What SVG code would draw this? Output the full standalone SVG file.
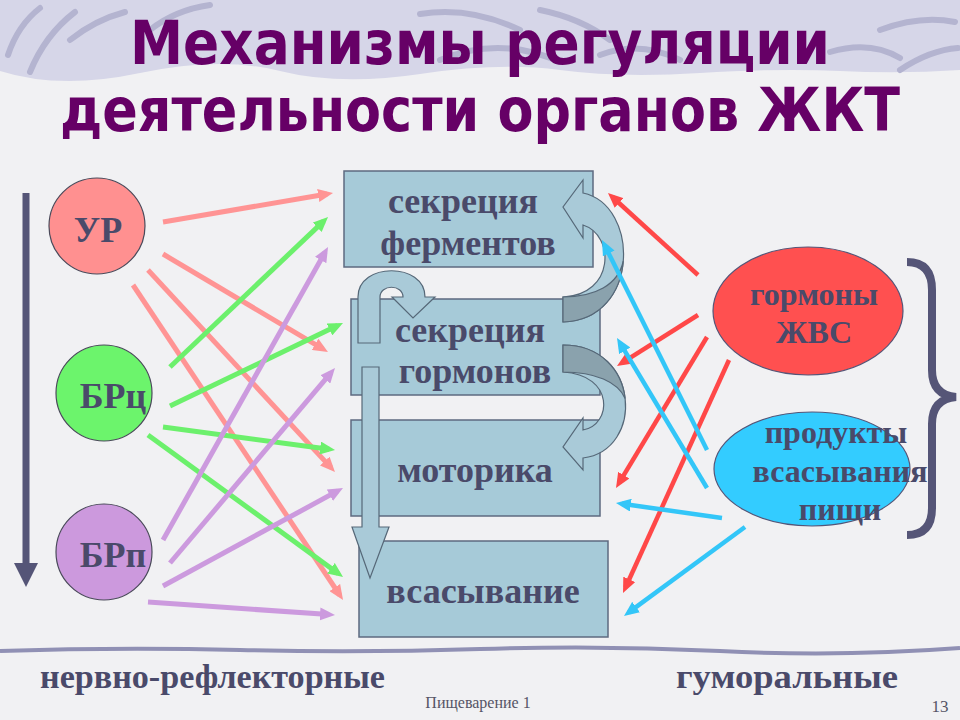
<svg xmlns="http://www.w3.org/2000/svg" width="960" height="720" viewBox="0 0 960 720">
<defs>
<style>
.title{font-family:"DejaVu Sans Condensed","DejaVu Sans",sans-serif;font-weight:bold;font-size:60px;fill:#660066}
.lbl{font-family:"Liberation Serif","Times New Roman",serif;font-weight:bold;fill:#4a4a6a;text-anchor:middle}
.bot{font-family:"Liberation Serif","Times New Roman",serif;font-weight:bold;fill:#4a4a6a;font-size:34px}
.box{fill:#a6cad8;stroke:#5d6a80;stroke-width:1.5}
.blk{fill:#a9cad8;stroke:#566878;stroke-width:1.2}
.blkd{fill:#8aa2ad;stroke:#566878;stroke-width:1.2}
.swirl{fill:none;stroke:#b4b4d0;stroke-width:6;stroke-linecap:round}
.cn{fill:none;stroke-width:5}
.pk{stroke:#ff9494;marker-end:url(#mpk)}
.gr{stroke:#6cf06c;marker-end:url(#mgr)}
.pu{stroke:#cc9ade;marker-end:url(#mpu)}
.rd{stroke:#ff4848;stroke-width:4.5;marker-end:url(#mrd)}
.bl{stroke:#33c6f8;stroke-width:4.5;marker-end:url(#mbl)}
</style>
<marker id="mpk" markerUnits="userSpaceOnUse" markerWidth="15" markerHeight="13" refX="9" refY="6.5" orient="auto"><path d="M0,0 L15,6.5 L0,13 Z" fill="#ff9494"/></marker>
<marker id="mgr" markerUnits="userSpaceOnUse" markerWidth="15" markerHeight="13" refX="9" refY="6.5" orient="auto"><path d="M0,0 L15,6.5 L0,13 Z" fill="#6cf06c"/></marker>
<marker id="mpu" markerUnits="userSpaceOnUse" markerWidth="15" markerHeight="13" refX="9" refY="6.5" orient="auto"><path d="M0,0 L15,6.5 L0,13 Z" fill="#cc9ade"/></marker>
<marker id="mrd" markerUnits="userSpaceOnUse" markerWidth="15" markerHeight="13" refX="9" refY="6.5" orient="auto"><path d="M0,0 L15,6.5 L0,13 Z" fill="#ff4848"/></marker>
<marker id="mbl" markerUnits="userSpaceOnUse" markerWidth="15" markerHeight="13" refX="9" refY="6.5" orient="auto"><path d="M0,0 L15,6.5 L0,13 Z" fill="#33c6f8"/></marker>
</defs>

<!-- background -->
<rect x="0" y="0" width="960" height="720" fill="#f1f1f3"/>
<path d="M0,0 H960 V70 Q900,74 840,71 T700,73 T560,70 T420,74 T280,71 T140,73 T0,71 Z" fill="#d6d6e8"/>
<path class="swirl" d="M8,55 Q18,25 40,8"/>
<path class="swirl" d="M30,72 Q45,35 75,12"/>
<path class="swirl" d="M70,40 Q95,20 125,12"/>
<path class="swirl" d="M150,30 Q175,10 210,5"/>
<path class="swirl" d="M420,14 Q470,6 520,30"/>
<path class="swirl" d="M440,60 Q500,35 560,62"/>
<path class="swirl" d="M540,10 Q580,18 610,40"/>
<path class="swirl" d="M600,55 Q640,40 680,60"/>
<path class="swirl" d="M830,52 Q870,40 900,58"/>
<path class="swirl" d="M880,30 Q920,15 955,22"/>
<path class="swirl" d="M900,70 Q930,50 958,48"/>
<path d="M0,651 Q120,647 240,650 T480,649 T720,651 T960,648" fill="none" stroke="#9090b4" stroke-width="4"/>

<!-- title -->
<text class="title" x="130" y="64" textLength="700" lengthAdjust="spacingAndGlyphs">Механизмы регуляции</text>
<text class="title" x="60" y="131" textLength="840" lengthAdjust="spacingAndGlyphs">деятельности органов ЖКТ</text>

<!-- left timeline arrow -->
<g id="nervous-axis">
<line x1="26" y1="193" x2="26" y2="566" stroke="#555577" stroke-width="7"/>
<path d="M14,563 L38,563 L26,587 Z" fill="#555577"/>
</g>

<!-- circles -->
<g id="node-ur">
<circle cx="97" cy="226" r="48" fill="#ff9090" stroke="#4a4a5a" stroke-width="1.2"/>
<text class="lbl" x="98" y="242" font-size="36">УР</text>
</g>
<g id="node-brc">
<circle cx="104" cy="393" r="48" fill="#6cf46c" stroke="#4a4a5a" stroke-width="1.2"/>
<text class="lbl" x="113" y="408" font-size="36">БРц</text>
</g>
<g id="node-brp">
<circle cx="104" cy="552" r="48" fill="#cc99dd" stroke="#4a4a5a" stroke-width="1.2"/>
<text class="lbl" x="113" y="567" font-size="36">БРп</text>
</g>

<!-- boxes -->
<g id="box-fermenty">
<rect class="box" x="344" y="171" width="249" height="96"/>
<text class="lbl" x="463" y="213" font-size="36">секреция</text>
<text class="lbl" x="468" y="255" font-size="36">ферментов</text>
</g>
<g id="box-gormony">
<rect class="box" x="351" y="299" width="249" height="96"/>
<text class="lbl" x="470" y="342" font-size="36">секреция</text>
<text class="lbl" x="475" y="383" font-size="36">гормонов</text>
</g>
<g id="box-motorika">
<rect class="box" x="351" y="420" width="249" height="96"/>
<text class="lbl" x="475" y="482" font-size="36">моторика</text>
</g>
<g id="box-vsasyvanie">
<rect class="box" x="359" y="541" width="249" height="96"/>
<text class="lbl" x="483" y="603" font-size="36">всасывание</text>
</g>

<!-- block arrows between boxes -->
<g id="block-arrows">
<path class="blk" d="M563,322 C640,320 640,205 583,193 L583,180 L563,207 L583,238 L583,225 C615,235 615,295 563,297 Z"/>
<path class="blkd" d="M563,322 C601.5,321 620.75,291.75 623.25,261.25 C618,285 595,297 563,297 Z"/>
<path class="blk" d="M563,345 C640,345 645,450 583,458 L583,470 L563,447 L583,418 L583,430 C612,425 615,375 563,372 Z"/>
<path class="blkd" d="M563,345 C601.5,345 622,371.25 625.1,398.5 C618,382 595,372 563,372 Z"/>
<path class="blk" d="M358,343 L358,297 C358,262 425,262 425,297 L435,297 L413,318 L392,297 L403,297 C403,284 380,284 380,297 L380,343 Z"/>
<path class="blk" d="M362,367 L379,367 L379,527 L389,527 L370,578 L352,527 L362,527 Z"/>
</g>

<!-- ellipses -->
<g id="node-gormony-zhvs">
<ellipse cx="808" cy="311" rx="95" ry="64" fill="#ff5050" stroke="#555577" stroke-width="1.2"/>
<text class="lbl" x="814" y="305" font-size="32">гормоны</text>
<text class="lbl" x="814" y="343" font-size="32">ЖВС</text>
</g>
<g id="brace">
<path d="M907,262 Q932,262 932,290 L932,370 Q932,395 956,397 Q932,399 932,424 L932,508 Q932,535 907,535" fill="none" stroke="#555577" stroke-width="8"/>
</g>
<g id="node-produkty">
<ellipse cx="812" cy="469" rx="98" ry="57" fill="#33ccff" stroke="#555577" stroke-width="1.2"/>
<text class="lbl" x="836" y="443" font-size="32">продукты</text>
<text class="lbl" x="840" y="482" font-size="32">всасывания</text>
<text class="lbl" x="840" y="520" font-size="32">пищи</text>
</g>

<!-- connectors -->
<g id="connectors">
<line class="cn pk" x1="163" y1="222" x2="327.1" y2="194"/>
<line class="cn pk" x1="163" y1="254" x2="322.8" y2="348.9"/>
<line class="cn pk" x1="148" y1="270" x2="330.9" y2="467.6"/>
<line class="cn pk" x1="133" y1="285" x2="339.7" y2="595"/>
<line class="cn gr" x1="170" y1="367" x2="323.7" y2="221.1"/>
<line class="cn gr" x1="170" y1="406" x2="337.6" y2="325.6"/>
<line class="cn gr" x1="163" y1="427" x2="329.1" y2="449.2"/>
<line class="cn gr" x1="148" y1="435" x2="338.2" y2="573.5"/>
<line class="cn pu" x1="163" y1="540" x2="325.1" y2="252.2"/>
<line class="cn pu" x1="170" y1="563" x2="331.1" y2="372.6"/>
<line class="cn pu" x1="163" y1="586" x2="337.7" y2="490.9"/>
<line class="cn pu" x1="148" y1="602" x2="329" y2="614.6"/>
<line class="cn rd" x1="698" y1="275" x2="612.4" y2="197"/>
<line class="cn rd" x1="698" y1="315" x2="622.1" y2="362.8"/>
<line class="cn rd" x1="707" y1="337" x2="619.1" y2="482.9"/>
<line class="cn rd" x1="729" y1="360" x2="625.5" y2="587.5"/>
<line class="cn bl" x1="707" y1="450" x2="604.7" y2="245.4"/>
<line class="cn bl" x1="707" y1="488" x2="620.1" y2="343.1"/>
<line class="cn bl" x1="722" y1="518" x2="621.9" y2="503.8"/>
<line class="cn bl" x1="745" y1="527" x2="628.8" y2="612.4"/>
</g>

<!-- bottom labels -->
<text class="bot" x="40" y="688" textLength="345" lengthAdjust="spacingAndGlyphs">нервно-рефлекторные</text>
<text class="bot" x="676" y="688" textLength="222" lengthAdjust="spacingAndGlyphs">гуморальные</text>
<text x="478" y="708" font-family="Liberation Serif, Times New Roman, serif" font-size="16" fill="#555566" text-anchor="middle">Пищеварение 1</text>
<text x="940" y="712" font-family="Liberation Serif, Times New Roman, serif" font-size="17" fill="#555566" text-anchor="middle">13</text>
</svg>
